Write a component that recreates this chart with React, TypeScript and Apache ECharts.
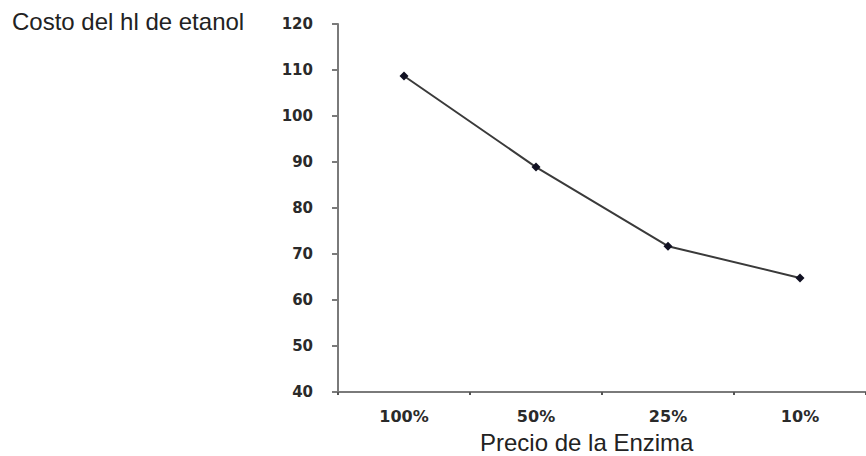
import React, { useEffect, useRef } from "react";
import * as echarts from "echarts";

const categories = ["100%", "50%", "25%", "10%"];
const costValues = [108.7, 88.9, 71.7, 64.8];
const yMin = 40;
const yMax = 120;
const yInterval = 10;
const yTitle = "Costo del hl de etanol";
const xTitle = "Precio de la Enzima";

export default function App() {
  const ref = useRef<HTMLDivElement>(null);
  useEffect(() => {
    if (!ref.current) return;
    const chart = echarts.init(ref.current, null, { renderer: "svg" });
    chart.setOption({
      animation: false,
      backgroundColor: "#ffffff",
      grid: { left: 338, top: 24, right: -4, bottom: 64, containLabel: false },
      xAxis: {
        type: "category",
        data: categories,
        boundaryGap: true,
        axisLine: { lineStyle: { color: "#7a7a7a", width: 2 } },
        axisTick: { show: true, length: 3, lineStyle: { color: "#555", width: 2 } },
        axisLabel: {
          margin: 16,
          color: "#2a2a2a",
          fontFamily: "DejaVu Sans",
          fontWeight: "bold",
          fontSize: 16,
        },
        splitLine: { show: false },
      },
      yAxis: {
        type: "value",
        min: yMin,
        max: yMax,
        interval: yInterval,
        axisLine: { show: true, lineStyle: { color: "#7a7a7a", width: 2 } },
        axisTick: { show: true, length: 6, lineStyle: { color: "#7a7a7a", width: 2 } },
        axisLabel: {
          margin: 25,
          color: "#2a2a2a",
          fontFamily: "DejaVu Sans",
          fontWeight: "bold",
          fontSize: 15,
        },
        splitLine: { show: false },
      },
      series: [
        {
          type: "line",
          data: costValues,
          symbol: "diamond",
          symbolSize: 9,
          itemStyle: { color: "#111122" },
          lineStyle: { color: "#3a3a3a", width: 2 },
        },
      ],
      graphic: [
        {
          type: "text",
          left: 12,
          top: 9,
          style: {
            text: yTitle,
            fontFamily: "Liberation Sans",
            fontSize: 24,
            fill: "#222",
          },
        },
        {
          type: "text",
          left: 480,
          top: 430,
          style: {
            text: xTitle,
            fontFamily: "Liberation Sans",
            fontSize: 24,
            fill: "#222",
          },
        },
      ],
    });
    return () => chart.dispose();
  }, []);
  return (
    <div
      ref={ref}
      style={{ position: "absolute", left: 0, top: 0, width: 866, height: 456 }}
    />
  );
}
